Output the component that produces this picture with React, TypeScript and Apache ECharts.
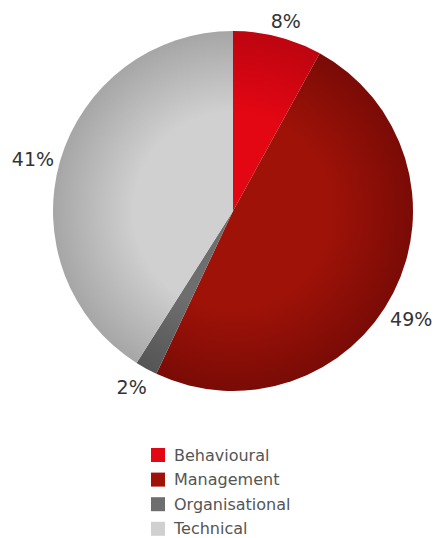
import React, { useEffect, useRef } from "react";
import * as echarts from "echarts";

const categories = ["Behavioural", "Management", "Organisational", "Technical"];
const values = [8, 49, 2, 41];
const baseColors = ["#e30613", "#9e1208", "#6e6e6e", "#d0d0d0"];
const rimColors = ["#bd0510", "#7a0b06", "#555555", "#a6a6a6"];
const labelOffsets = [[3, 4], [0, 17], [-5, 1], [-8, 4]];

export default function App() {
  const ref = useRef<HTMLDivElement>(null);
  useEffect(() => {
    document.body.style.margin = "0";
    const chart = echarts.init(ref.current!, null, { renderer: "svg" });
    const cx = 233;
    const cy = 211;
    const r = 180;
    const font = "'DejaVu Sans', sans-serif";
    chart.setOption({
      animation: false,
      backgroundColor: "#ffffff",
      legend: {
        orient: "vertical",
        left: 151,
        top: 447,
        height: 200,
        padding: 0,
        itemWidth: 14,
        itemHeight: 14,
        itemGap: 8.6,
        icon: "rect",
        textStyle: {
          fontFamily: font,
          fontSize: 16,
          lineHeight: 14,
          color: "#555555",
          padding: [0, 0, 0, 4],
        },
        data: categories.map((c, i) => ({ name: c, itemStyle: { color: baseColors[i] } })),
      },
      series: [
        {
          type: "pie",
          center: [cx, cy],
          radius: [0, r],
          startAngle: 90,
          clockwise: true,
          label: { show: false },
          labelLine: { show: false },
          emphasis: { disabled: true },
          data: categories.map((c, i) => ({
            name: c,
            value: values[i],
            itemStyle: {
              color: new echarts.graphic.RadialGradient(
                cx,
                cy,
                r,
                [
                  { offset: 0, color: baseColors[i] },
                  { offset: 0.55, color: baseColors[i] },
                  { offset: 1, color: rimColors[i] },
                ],
                true
              ),
            },
          })),
        },
        {
          type: "pie",
          center: [cx, cy],
          radius: [188, 206],
          startAngle: 90,
          clockwise: true,
          silent: true,
          label: {
            show: true,
            position: "inside",
            formatter: "{c}%",
            fontFamily: font,
            fontSize: 19,
            color: "#333333",
          },
          labelLine: { show: false },
          emphasis: { disabled: true },
          itemStyle: { color: "transparent" },
          data: categories.map((c, i) => ({
            name: c,
            value: values[i],
            label: { offset: labelOffsets[i] },
          })),
        },
      ],
    });
    return () => chart.dispose();
  }, []);
  return <div ref={ref} style={{ width: 434, height: 538 }} />;
}
